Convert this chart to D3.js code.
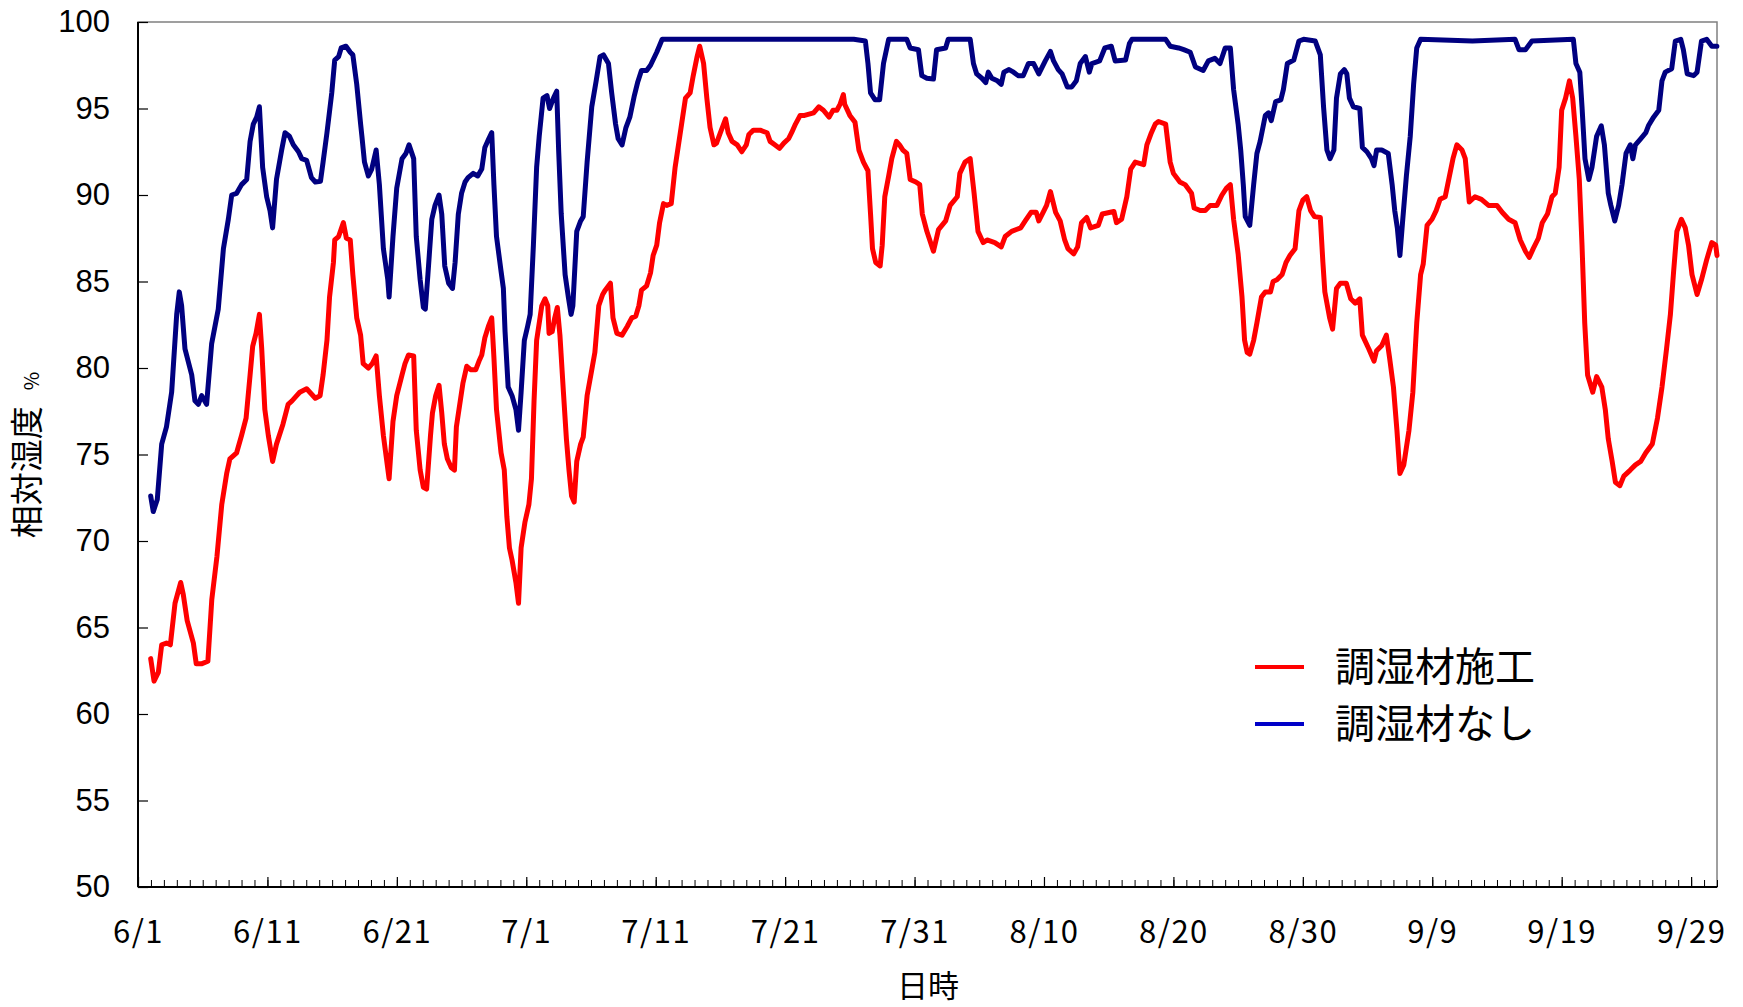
<!DOCTYPE html>
<html lang="ja">
<head>
<meta charset="utf-8">
<script src="https://cdn.jsdelivr.net/npm/d3@7"></script>
<style>
  body { margin: 0; background: #fff; }
  svg { display: block; }
  .num { font-family: 'Liberation Sans', Arial, sans-serif; }
  .jp { font-family: 'Noto Sans CJK JP', sans-serif; }
</style>
</head>
<body>
<svg id="j-svg" width="1743" height="1007" viewBox="0 0 1743 1007"></svg>
<script>
/* global d3 */

// days counted from 6/1 0:00, relative humidity in %
const startDate = Date.UTC(2010, 5, 1);
const dayCount = 122;

const seriesNames = ['調湿材施工', '調湿材なし'];
const yTicks = [50, 55, 60, 65, 70, 75, 80, 85, 90, 95, 100];
const xLabelDays = [0, 10, 20, 30, 40, 50, 60, 70, 80, 90, 100, 110, 120];

const treated = [
  [0.98, 63.2], [1.24, 61.9], [1.57, 62.4], [1.83, 64.0], [2.2, 64.1], [2.5, 64.0], [2.86, 66.4],
  [3.3, 67.6], [3.5, 66.9], [3.8, 65.4], [4.28, 64.1], [4.5, 62.9], [4.9, 62.9], [5.4, 63.05],
  [5.7, 66.6], [6.1, 69.1], [6.47, 72.1], [6.85, 73.9], [7.1, 74.75], [7.62, 75.1], [8.0, 76.1],
  [8.35, 77.1], [8.66, 79.6], [8.86, 81.25], [9.12, 82.0], [9.38, 83.1], [9.56, 81.1], [9.8, 77.6],
  [10.07, 76.1], [10.4, 74.6], [10.7, 75.6], [11.2, 76.75], [11.6, 77.9], [11.9, 78.1], [12.26, 78.4],
  [12.5, 78.6], [13.03, 78.8], [13.4, 78.5], [13.7, 78.25], [14.07, 78.4], [14.3, 79.6], [14.6, 81.6],
  [14.8, 84.1], [15.1, 86.1], [15.2, 87.4], [15.5, 87.6], [15.87, 88.4], [16.1, 87.5], [16.4, 87.4],
  [16.6, 85.4], [16.9, 82.9], [17.2, 81.9], [17.4, 80.25], [17.8, 80.0], [18.1, 80.25], [18.4, 80.7],
  [18.65, 78.4], [18.96, 76.1], [19.4, 73.6], [19.7, 76.9], [19.99, 78.4], [20.4, 79.6], [20.63, 80.25],
  [20.9, 80.75], [21.3, 80.7], [21.5, 76.4], [21.8, 74.1], [22.05, 73.1], [22.3, 73.0], [22.6, 76.1],
  [22.75, 77.4], [23.0, 78.4], [23.26, 79.0], [23.47, 77.4], [23.67, 75.6], [23.9, 74.75], [24.2, 74.25],
  [24.45, 74.1], [24.6, 76.6], [24.9, 78.1], [25.1, 79.1], [25.4, 80.1], [25.7, 79.9], [26.1, 79.9],
  [26.35, 80.4], [26.56, 80.75], [26.8, 81.75], [27.07, 82.4], [27.33, 82.9], [27.5, 80.6], [27.7, 77.6],
  [28.05, 75.1], [28.3, 74.1], [28.5, 71.4], [28.7, 69.6], [28.9, 68.9], [29.2, 67.6], [29.4, 66.4],
  [29.6, 69.6], [29.9, 71.1], [30.2, 72.1], [30.4, 73.6], [30.6, 78.1], [30.8, 81.6], [31.0, 82.6],
  [31.2, 83.6], [31.45, 84.0], [31.66, 83.6], [31.76, 82.0], [32.0, 82.1], [32.2, 82.9], [32.4, 83.5],
  [32.6, 81.9], [32.87, 78.6], [33.1, 75.9], [33.3, 74.1], [33.5, 72.6], [33.7, 72.25], [33.9, 74.6],
  [34.2, 75.6], [34.4, 76.0], [34.7, 78.4], [35.06, 79.9], [35.3, 80.9], [35.6, 83.6], [35.9, 84.25],
  [36.1, 84.5], [36.5, 84.9], [36.7, 82.9], [37.0, 82.0], [37.4, 81.9], [37.8, 82.4], [38.15, 82.9],
  [38.46, 83.0], [38.7, 83.6], [38.9, 84.5], [39.3, 84.75], [39.6, 85.5], [39.8, 86.5], [40.08, 87.1],
  [40.3, 88.4], [40.6, 89.5], [40.85, 89.4], [41.2, 89.5], [41.5, 91.6], [41.76, 92.9], [42.0, 94.1],
  [42.3, 95.6], [42.66, 95.9], [42.9, 96.9], [43.2, 98.0], [43.4, 98.6], [43.7, 97.6], [43.95, 95.6],
  [44.2, 93.9], [44.5, 92.9], [44.7, 93.0], [45.0, 93.6], [45.4, 94.4], [45.6, 93.6], [45.9, 93.1],
  [46.3, 92.9], [46.65, 92.5], [47.0, 92.9], [47.2, 93.5], [47.55, 93.75], [48.07, 93.75], [48.6, 93.6],
  [48.84, 93.1], [49.2, 92.9], [49.56, 92.7], [49.9, 93.0], [50.26, 93.25], [50.5, 93.6], [50.8, 94.1],
  [51.16, 94.6], [51.5, 94.6], [52.2, 94.75], [52.6, 95.1], [52.96, 94.9], [53.4, 94.5], [53.7, 94.9],
  [54.0, 94.9], [54.25, 95.25], [54.5, 95.8], [54.6, 95.25], [55.0, 94.6], [55.4, 94.2], [55.7, 92.6],
  [56.05, 91.9], [56.4, 91.4], [56.6, 88.9], [56.75, 86.9], [57.0, 86.1], [57.34, 85.9], [57.5, 87.1],
  [57.7, 89.9], [58.0, 91.1], [58.24, 92.1], [58.6, 93.1], [58.84, 92.9], [59.1, 92.6], [59.4, 92.4],
  [59.66, 90.9], [60.1, 90.75], [60.4, 90.6], [60.6, 88.9], [60.95, 87.9], [61.46, 86.75], [61.85, 88.0],
  [62.4, 88.5], [62.75, 89.4], [63.3, 89.9], [63.5, 91.25], [63.9, 91.9], [64.3, 92.1], [64.6, 90.1],
  [64.9, 87.9], [65.3, 87.25], [65.6, 87.4], [66.2, 87.25], [66.7, 87.0], [67.0, 87.6], [67.5, 87.9],
  [68.2, 88.1], [68.55, 88.5], [69.0, 89.0], [69.4, 89.0], [69.6, 88.5], [70.0, 89.1], [70.2, 89.4],
  [70.5, 90.2], [70.9, 89.0], [71.25, 88.5], [71.6, 87.4], [71.85, 86.9], [72.3, 86.6], [72.6, 87.0],
  [72.9, 88.4], [73.3, 88.7], [73.6, 88.1], [74.2, 88.25], [74.5, 88.9], [75.4, 89.05], [75.6, 88.4],
  [76.0, 88.6], [76.4, 89.9], [76.7, 91.5], [77.05, 91.9], [77.7, 91.75], [77.95, 92.9], [78.3, 93.6],
  [78.6, 94.1], [78.85, 94.25], [79.4, 94.1], [79.75, 91.9], [80.0, 91.25], [80.5, 90.75], [80.9, 90.6],
  [81.4, 90.1], [81.6, 89.25], [82.07, 89.1], [82.46, 89.1], [82.85, 89.4], [83.36, 89.4], [83.75, 90.0],
  [84.1, 90.4], [84.4, 90.6], [84.65, 88.6], [85.0, 86.6], [85.3, 84.1], [85.5, 81.6], [85.7, 80.9],
  [85.9, 80.8], [86.2, 81.6], [86.45, 82.6], [86.8, 84.1], [87.1, 84.4], [87.5, 84.4], [87.7, 85.0],
  [88.0, 85.1], [88.4, 85.4], [88.7, 86.1], [89.0, 86.5], [89.4, 86.9], [89.7, 89.1], [90.0, 89.7],
  [90.3, 89.9], [90.6, 89.1], [90.9, 88.75], [91.35, 88.7], [91.55, 86.1], [91.7, 84.4], [92.07, 82.9],
  [92.3, 82.25], [92.6, 84.6], [92.9, 84.9], [93.36, 84.9], [93.7, 84.0], [94.05, 83.75], [94.4, 84.0],
  [94.6, 81.9], [95.1, 81.1], [95.5, 80.4], [95.7, 81.0], [96.1, 81.3], [96.45, 81.9], [96.7, 80.6],
  [97.0, 78.9], [97.27, 76.4], [97.5, 73.9], [97.8, 74.4], [98.2, 76.4], [98.5, 78.6], [98.8, 82.6],
  [99.1, 85.4], [99.3, 86.0], [99.6, 88.25], [99.98, 88.6], [100.3, 89.1], [100.6, 89.75], [101.0, 89.9],
  [101.3, 91.0], [101.6, 92.1], [101.9, 92.9], [102.3, 92.6], [102.55, 92.1], [102.86, 89.6], [103.3, 89.9],
  [103.8, 89.75], [104.35, 89.4], [105.0, 89.4], [105.4, 89.0], [105.9, 88.6], [106.4, 88.4], [106.8, 87.4],
  [107.2, 86.75], [107.5, 86.4], [107.8, 86.9], [108.2, 87.5], [108.5, 88.4], [108.9, 88.9], [109.25, 89.9],
  [109.5, 90.1], [109.8, 91.6], [110.0, 94.9], [110.3, 95.6], [110.6, 96.6], [110.85, 95.6], [111.1, 93.4],
  [111.36, 90.9], [111.57, 87.1], [111.78, 82.6], [112.0, 79.6], [112.4, 78.6], [112.7, 79.5], [113.1, 78.9],
  [113.37, 77.6], [113.6, 75.9], [113.9, 74.6], [114.15, 73.4], [114.5, 73.2], [114.8, 73.75], [115.3, 74.1],
  [115.7, 74.4], [116.1, 74.6], [116.5, 75.1], [117.0, 75.6], [117.4, 77.1], [117.75, 78.9], [118.1, 81.1],
  [118.4, 83.1], [118.65, 85.6], [118.9, 87.9], [119.25, 88.6], [119.55, 88.1], [119.8, 87.1], [120.07, 85.4],
  [120.46, 84.25], [120.8, 85.1], [121.2, 86.25], [121.6, 87.25], [121.9, 87.1], [122.0, 86.5]
];

const untreated = [
  [0.98, 72.6], [1.18, 71.7], [1.49, 72.4], [1.83, 75.6], [2.2, 76.6], [2.6, 78.6], [2.99, 83.1],
  [3.19, 84.4], [3.37, 83.6], [3.63, 81.1], [4.15, 79.6], [4.4, 78.1], [4.66, 77.9], [4.92, 78.4],
  [5.3, 77.9], [5.69, 81.4], [6.2, 83.4], [6.6, 86.9], [6.98, 88.6], [7.24, 90.0], [7.62, 90.1],
  [8.0, 90.6], [8.4, 90.9], [8.66, 93.1], [8.91, 94.1], [9.17, 94.5], [9.38, 95.1], [9.63, 91.6],
  [9.94, 89.9], [10.2, 89.1], [10.4, 88.1], [10.7, 90.9], [11.1, 92.6], [11.36, 93.6], [11.7, 93.4],
  [12.0, 92.9], [12.4, 92.5], [12.65, 92.1], [13.03, 92.0], [13.4, 91.0], [13.7, 90.75], [14.1, 90.8],
  [14.3, 91.9], [14.6, 93.6], [14.97, 95.9], [15.2, 97.8], [15.5, 98.0], [15.7, 98.5], [16.07, 98.6],
  [16.4, 98.25], [16.6, 98.1], [16.9, 96.4], [17.2, 94.1], [17.3, 93.4], [17.5, 91.9], [17.8, 91.1],
  [18.06, 91.5], [18.4, 92.6], [18.65, 90.6], [18.96, 86.9], [19.3, 85.1], [19.4, 84.1], [19.7, 87.6],
  [19.99, 90.4], [20.4, 92.1], [20.7, 92.4], [20.94, 92.9], [21.3, 92.1], [21.5, 87.6], [21.8, 85.1],
  [22.05, 83.5], [22.2, 83.4], [22.4, 85.4], [22.7, 88.6], [22.95, 89.4], [23.26, 90.0], [23.47, 88.9],
  [23.7, 85.9], [24.0, 84.9], [24.3, 84.6], [24.5, 86.1], [24.75, 88.9], [25.0, 90.1], [25.27, 90.75],
  [25.5, 91.0], [25.9, 91.25], [26.25, 91.1], [26.56, 91.5], [26.8, 92.75], [27.1, 93.25], [27.33, 93.6],
  [27.5, 90.6], [27.7, 87.6], [28.05, 85.6], [28.23, 84.6], [28.36, 82.1], [28.6, 78.9], [28.9, 78.4],
  [29.2, 77.6], [29.4, 76.4], [29.6, 78.6], [29.85, 81.6], [30.1, 82.4], [30.3, 83.1], [30.55, 87.1],
  [30.8, 91.6], [31.0, 93.4], [31.3, 95.6], [31.6, 95.75], [31.8, 95.0], [32.1, 95.6], [32.35, 96.0],
  [32.5, 92.6], [32.7, 88.9], [33.0, 85.4], [33.25, 84.1], [33.46, 83.1], [33.6, 83.6], [33.9, 87.9],
  [34.2, 88.5], [34.4, 88.75], [34.7, 91.9], [35.06, 95.1], [35.4, 96.6], [35.7, 98.0], [35.96, 98.1],
  [36.35, 97.6], [36.6, 95.9], [36.9, 94.1], [37.1, 93.25], [37.4, 92.9], [37.7, 93.9], [38.0, 94.5],
  [38.35, 95.75], [38.6, 96.5], [38.9, 97.2], [39.3, 97.2], [39.6, 97.5], [40.08, 98.25], [40.5, 99.0],
  [55.3, 99.0], [56.2, 98.9], [56.4, 97.6], [56.6, 95.9], [56.95, 95.5], [57.3, 95.5], [57.6, 97.6],
  [58.0, 99.0], [59.4, 99.0], [59.66, 98.5], [60.3, 98.4], [60.56, 96.9], [60.95, 96.75], [61.46, 96.7],
  [61.7, 98.4], [62.4, 98.5], [62.6, 99.0], [64.3, 99.0], [64.55, 97.6], [64.8, 97.0], [65.2, 96.75],
  [65.5, 96.5], [65.7, 97.1], [65.97, 96.75], [66.4, 96.6], [66.7, 96.4], [66.9, 97.1], [67.3, 97.25],
  [67.65, 97.1], [68.0, 96.9], [68.4, 96.9], [68.8, 97.6], [69.2, 97.6], [69.6, 97.0], [70.1, 97.75],
  [70.5, 98.3], [70.74, 97.75], [71.1, 97.25], [71.4, 97.0], [71.8, 96.25], [72.15, 96.25], [72.5, 96.6],
  [72.8, 97.6], [73.2, 98.0], [73.5, 97.1], [73.7, 97.6], [74.3, 97.75], [74.7, 98.5], [75.2, 98.6],
  [75.5, 97.75], [76.3, 97.8], [76.6, 98.75], [76.8, 99.0], [79.4, 99.0], [79.75, 98.6], [80.4, 98.5],
  [80.8, 98.4], [81.3, 98.25], [81.7, 97.4], [82.3, 97.2], [82.7, 97.75], [83.2, 97.9], [83.6, 97.6],
  [84.0, 98.5], [84.4, 98.5], [84.65, 96.1], [85.0, 94.1], [85.2, 92.6], [85.4, 90.6], [85.55, 88.75],
  [85.9, 88.25], [86.2, 90.6], [86.45, 92.4], [86.7, 93.1], [87.1, 94.6], [87.35, 94.75], [87.56, 94.3],
  [87.9, 95.4], [88.3, 95.5], [88.5, 96.1], [88.8, 97.6], [89.3, 97.8], [89.7, 98.9], [90.06, 99.0],
  [90.96, 98.9], [91.35, 98.1], [91.6, 95.1], [91.86, 92.6], [92.1, 92.1], [92.4, 92.6], [92.6, 95.6],
  [92.9, 97.0], [93.2, 97.25], [93.4, 97.0], [93.6, 95.6], [93.9, 95.1], [94.4, 95.0], [94.6, 92.75],
  [94.95, 92.5], [95.3, 92.1], [95.5, 91.7], [95.7, 92.6], [96.1, 92.6], [96.6, 92.4], [96.9, 90.6],
  [97.1, 89.1], [97.3, 88.1], [97.5, 86.5], [97.7, 88.4], [98.0, 91.1], [98.3, 93.4], [98.56, 96.4],
  [98.8, 98.5], [99.1, 99.0], [103.1, 98.9], [106.4, 99.0], [106.7, 98.4], [107.2, 98.4], [107.7, 98.9],
  [110.9, 99.0], [111.1, 97.6], [111.4, 97.1], [111.57, 95.1], [111.8, 92.1], [112.1, 90.9], [112.34, 91.6],
  [112.7, 93.4], [113.06, 94.0], [113.3, 92.9], [113.6, 90.1], [113.8, 89.4], [114.1, 88.5], [114.4, 89.4],
  [114.66, 90.6], [114.97, 92.4], [115.3, 92.9], [115.5, 92.1], [115.7, 92.9], [116.1, 93.25], [116.5, 93.6],
  [116.7, 94.0], [117.1, 94.5], [117.5, 94.9], [117.75, 96.6], [118.0, 97.1], [118.5, 97.3], [118.78, 98.9],
  [119.2, 99.0], [119.4, 98.4], [119.7, 97.0], [120.2, 96.9], [120.46, 97.1], [120.8, 98.9], [121.2, 99.0],
  [121.6, 98.6], [121.99, 98.6]
];

const dayMs = 864e5;
const toDate = d => new Date(startDate + d * dayMs);

const svg = d3.select('#j-svg');
const margins = { top: 22, right: 26, bottom: 120, left: 138 };
const width = 1743 - margins.left - margins.right;
const height = 1007 - margins.top - margins.bottom;

const g = svg.append('g').attr('transform', 'translate(' + margins.left + ',' + margins.top + ')');

const x = d3.scaleUtc().domain([toDate(0), toDate(dayCount)]).range([0, width]);
const y = d3.scaleLinear().domain([50, 100]).range([height, 0]);

// frame (top/right grey)
g.append('rect')
  .attr('width', width).attr('height', height)
  .attr('fill', 'none').attr('stroke', '#808080').attr('stroke-width', 1.5);

// minor day ticks
const minorAxis = d3.axisBottom(x).ticks(d3.utcDay.every(1)).tickSize(-7).tickFormat('');
const minor = g.append('g').attr('transform', 'translate(0,' + height + ')').call(minorAxis);
minor.select('.domain').remove();
minor.selectAll('line').attr('stroke', '#000').attr('stroke-width', 1);

// major ticks + labels
const xAxis = d3.axisBottom(x)
  .tickValues(xLabelDays.map(toDate))
  .tickSize(-10)
  .tickPadding(34)
  .tickFormat(d3.utcFormat('%-m/%-d'));
const xg = g.append('g').attr('transform', 'translate(0,' + height + ')').call(xAxis);
xg.select('.domain').remove();
xg.selectAll('line').attr('stroke', '#000').attr('stroke-width', 1.2);
xg.selectAll('text').attr('class', 'jp').attr('font-size', 31)
  .attr('letter-spacing', 1.5).attr('fill', '#000');

const yAxis = d3.axisLeft(y).tickValues(yTicks).tickSize(-10).tickPadding(28);
const yg = g.append('g').call(yAxis);
yg.select('.domain').remove();
yg.selectAll('line').attr('stroke', '#000').attr('stroke-width', 1.2);
yg.selectAll('text').attr('class', 'num').attr('font-size', 31).attr('fill', '#000');

// left & bottom axis lines
g.append('line').attr('x1', 0).attr('x2', 0).attr('y1', 0).attr('y2', height)
  .attr('stroke', '#000').attr('stroke-width', 2);
g.append('line').attr('x1', 0).attr('x2', width).attr('y1', height).attr('y2', height)
  .attr('stroke', '#000').attr('stroke-width', 2);

const line = d3.line().x(d => x(toDate(d[0]))).y(d => y(d[1]));

g.append('path').datum(treated)
  .attr('d', line).attr('fill', 'none')
  .attr('stroke', '#ff0000').attr('stroke-width', 5)
  .attr('stroke-linejoin', 'round').attr('stroke-linecap', 'round');

g.append('path').datum(untreated)
  .attr('d', line).attr('fill', 'none')
  .attr('stroke', '#000080').attr('stroke-width', 5)
  .attr('stroke-linejoin', 'round').attr('stroke-linecap', 'round');

// legend
const legendColors = ['#ff0000', '#0000c8'];
const legend = svg.append('g').attr('transform', 'translate(1255,667)');
seriesNames.forEach((name, i) => {
  legend.append('line')
    .attr('x1', 0).attr('x2', 49).attr('y1', i * 57).attr('y2', i * 57)
    .attr('stroke', legendColors[i]).attr('stroke-width', 4);
  legend.append('text')
    .attr('class', 'jp')
    .attr('x', 80).attr('y', i * 57)
    .attr('dy', '0.35em')
    .attr('font-size', 40)
    .text(name);
});

// axis titles
svg.append('text')
  .attr('class', 'jp')
  .attr('x', 928).attr('y', 986)
  .attr('dy', '0.35em')
  .attr('text-anchor', 'middle')
  .attr('font-size', 31)
  .text('日時');

const yTitle = svg.append('text')
  .attr('class', 'jp')
  .attr('transform', 'translate(27,455) rotate(-90)')
  .attr('dy', '0.35em')
  .attr('text-anchor', 'middle')
  .attr('font-size', 33);
yTitle.append('tspan').text('相対湿度');
yTitle.append('tspan').attr('dx', 16).attr('font-size', 20).text('%');
</script>
</body>
</html>
